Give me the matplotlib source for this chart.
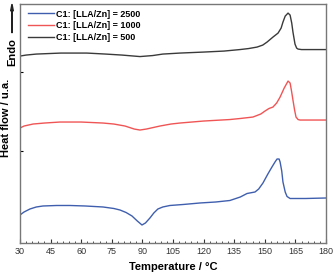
import matplotlib
matplotlib.use("Agg")
import matplotlib.pyplot as plt
from matplotlib.ticker import MultipleLocator

plt.rcParams["font.family"] = ["Liberation Sans", "DejaVu Sans"]

# DSC-kurver (T i °C, varmestrøm i vilkårlige enheter)
t_500 = [30, 33, 38, 50, 62.8, 72, 80, 88.8, 95, 100, 108.4, 120, 130, 137.8, 142, 146.2, 149,
         151.1, 154, 156.5, 158, 158.9, 160, 161.4, 162.4, 163.2, 163.8, 164.8, 165.6, 166.3, 168, 180]
hf_500 = [18.7, 18.8, 18.9, 19.0, 19.0, 18.9, 18.8, 18.65, 18.75, 18.9, 19.0, 19.1, 19.2, 19.35,
          19.45, 19.6, 19.8, 20.1, 20.6, 21.0, 21.5, 22.1, 22.7, 23.0, 22.8, 22.0, 21.1, 19.9,
          19.5, 19.4, 19.35, 19.35]

t_1000 = [30, 32, 36.4, 42, 49.6, 60, 70.7, 76, 81.5, 86, 88.8, 92, 98.6, 104, 108.4, 120, 132.9,
          137.8, 144.2, 148, 150.1, 152, 154, 155.8, 157.5, 159.5, 161.4, 162.4, 163.1, 163.8,
          164.6, 165.3, 166.3, 167.3, 180]
hf_1000 = [11.5, 11.7, 11.9, 12.0, 12.1, 12.1, 12.0, 11.9, 11.7, 11.4, 11.3, 11.4, 11.7, 11.9,
           12.0, 12.2, 12.35, 12.45, 12.6, 12.9, 13.2, 13.45, 13.6, 14.0, 14.6, 15.5, 16.2, 16.0,
           15.2, 14.3, 13.3, 12.6, 12.35, 12.3, 12.3]

t_2500 = [30, 32, 34.9, 38, 41.3, 48, 54.5, 62, 70.7, 76, 79, 82, 84.9, 87.5, 89.8, 91.5, 93.7,
          95.6, 97.6, 100, 103.5, 110, 118.2, 126, 132.9, 138, 141.3, 145.2, 147, 149.1, 151.5,
          153.5, 155, 156, 157, 157.5, 158.3, 158.9, 160, 160.9, 162.4, 170, 180]
hf_2500 = [2.8, 3.1, 3.4, 3.6, 3.7, 3.75, 3.75, 3.7, 3.6, 3.45, 3.3, 3.05, 2.7, 2.2, 1.8, 2.0, 2.5,
           3.0, 3.4, 3.6, 3.75, 3.85, 4.0, 4.1, 4.25, 4.6, 4.95, 5.1, 5.4, 6.0, 6.9, 7.6, 8.1, 8.4,
           8.4, 8.1, 7.2, 6.1, 5.1, 4.65, 4.45, 4.45, 4.5]

etiketter = ["C1: [LLA/Zn] = 2500", "C1: [LLA/Zn] = 1000", "C1: [LLA/Zn] = 500"]

fig = plt.figure(figsize=(3.33, 2.73), dpi=100)
ax = fig.add_axes([0.06, 0.11, 0.919, 0.875])

ax.plot(t_2500, hf_2500, color="#3f5fae", lw=1.0, label=etiketter[0])
ax.plot(t_1000, hf_1000, color="#f05555", lw=1.0, label=etiketter[1])
ax.plot(t_500, hf_500, color="#3a3a3a", lw=1.0, label=etiketter[2])

ax.set_xlim(30, 180)
ax.set_ylim(0, 23.9)
ax.xaxis.set_major_locator(MultipleLocator(15))
ax.xaxis.set_minor_locator(MultipleLocator(3))
ax.tick_params(axis="x", which="both", direction="in", labelsize=6.5, colors="#333333", pad=3)
ax.tick_params(axis="x", which="major", length=3)
ax.tick_params(axis="x", which="minor", length=1.5)
ax.set_yticks([9.2, 17.1])
ax.set_yticklabels([])
ax.tick_params(axis="y", direction="in", length=2)
for s in ax.spines.values():
    s.set_color("#777777")
    s.set_linewidth(1.0)

ax.set_xlabel("Temperature / °C", fontsize=8, fontweight="bold", labelpad=4)
fig.text(0.018, 0.57, "Heat flow / u.a.", rotation=90, fontsize=8, fontweight="bold",
         ha="center", va="center")
fig.text(0.036, 0.81, "Endo", rotation=90, fontsize=8, fontweight="bold", ha="center", va="center")
fig.patches.append(matplotlib.patches.FancyArrow(0.036, 0.88, 0, 0.08, width=0.0005, head_width=0.008,
                                                 head_length=0.025, color="#222222",
                                                 transform=fig.transFigure, figure=fig))

ax.legend(loc="upper left", frameon=False, prop={"size": 6.5, "weight": "bold"},
          handlelength=2.8, handletextpad=0.25, labelspacing=0.3,
          bbox_to_anchor=(0.01, 1.0), borderaxespad=0.2)

fig.savefig("out.png", dpi=100)
